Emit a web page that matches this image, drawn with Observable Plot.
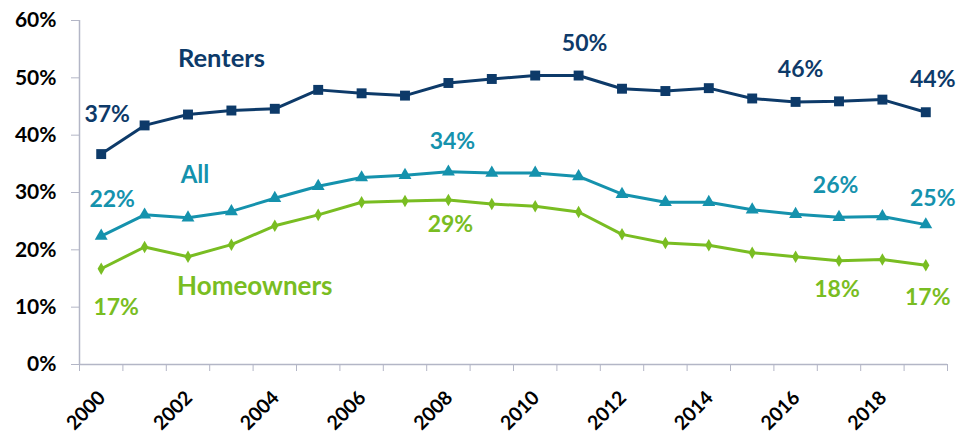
<!DOCTYPE html>
<html><head><meta charset="utf-8">
<script src="https://cdn.jsdelivr.net/npm/d3@7"></script>
<script src="https://cdn.jsdelivr.net/npm/@observablehq/plot@0.6"></script>
<style>body{margin:0;background:#fff;}</style>
</head><body><div id="chart"></div>
<script>
const years = [2000,2001,2002,2003,2004,2005,2006,2007,2008,2009,2010,2011,2012,2013,2014,2015,2016,2017,2018,2019];
const renters = [36.7,41.7,43.6,44.3,44.6,47.9,47.3,46.9,49.1,49.8,50.4,50.4,48.1,47.7,48.2,46.4,45.8,45.9,46.2,44.0];
const allHouseholds = [22.4,26.1,25.6,26.7,29.0,31.1,32.6,33.0,33.6,33.4,33.4,32.8,29.7,28.3,28.3,27.0,26.2,25.7,25.8,24.4];
const homeowners = [16.7,20.5,18.8,20.9,24.2,26.1,28.3,28.5,28.7,28.0,27.6,26.6,22.7,21.2,20.8,19.5,18.8,18.1,18.3,17.3];
const seriesNames = ["Renters","All","Homeowners"];
const yTicks = [0,10,20,30,40,50,60];
const xTickLabels = [2000,2002,2004,2006,2008,2010,2012,2014,2016,2018];
const labelText   = ["Renters","37%","50%","46%","44%","All","22%","34%","26%","25%","Homeowners","17%","29%","18%","17%"];
const labelSeries = ["Renters","Renters","Renters","Renters","Renters","All","All","All","All","All","Homeowners","Homeowners","Homeowners","Homeowners","Homeowners"];
const labelYear   = [2003,2000,2011,2016,2019,2002,2000,2008,2016,2019,2004,2000,2008,2017,2019];

// layout (pixel offsets and sizes of labels relative to their anchor point)
const labelDx = [-10,6,6,5,7,7,11,4,40,7,-20,15,2,-2,2];
const labelDy = [-52,-39,-32,-32,-33,-42,-36,-30,-29,-26,61,39,25,29,32];
const labelSize = [25.5,23,23,23,23,24,23,23,23,23,26,23,23,23,23];

const colors = {Renters:"#0d3a69", All:"#1592ad", Homeowners:"#79bd22"};
const symbols = {Renters:"square", All:"triangle", Homeowners:"diamond"};
const radii = {Renters:5.6, All:4.8, Homeowners:3.8};
const valuesBySeries = {Renters:renters, All:allHouseholds, Homeowners:homeowners};

const rows = seriesNames.flatMap(s => years.map((yr,i) => ({series:s, year:yr, value:valuesBySeries[s][i]})));
const boundaries = years.map(y => y - 0.5).concat([years[years.length-1] + 0.5]);
const font = "Lato, 'Open Sans', sans-serif";
const axisColor = "#b3b6c6";

const marks = [
  Plot.axisY({ticks: yTicks, tickFormat: d => d + "%", tickSize: 8, tickPadding: 15, stroke: axisColor, fill: "#000", fontSize: 21, fontWeight: "bold", label: null}),
  Plot.ruleX([boundaries[0]], {y1: 0, y2: 60, stroke: axisColor, strokeWidth: 1.5}),
  Plot.ruleY([0], {stroke: axisColor, strokeWidth: 1.5}),
  Plot.axisX({ticks: boundaries, tickFormat: () => "", tickSize: 7, stroke: axisColor, label: null}),
  Plot.text(xTickLabels, {x: d => d, y: 0, text: d => String(d), rotate: -45, textAnchor: "end", lineAnchor: "middle", dx: 1, dy: 30, fontSize: 19.5, fontWeight: "bold", fill: "#000"}),
  ...seriesNames.map(s => Plot.lineY(rows.filter(r => r.series === s), {x: "year", y: "value", stroke: colors[s], strokeWidth: 3})),
  ...seriesNames.map(s => Plot.dot(rows.filter(r => r.series === s), {x: "year", y: "value", symbol: symbols[s], r: radii[s], fill: colors[s], stroke: "none"})),
  ...labelText.map((t, i) => {
    const s = labelSeries[i];
    const idx = years.indexOf(labelYear[i]);
    return Plot.text([{year: labelYear[i], value: valuesBySeries[s][idx], t}], {x: "year", y: "value", text: "t", dx: labelDx[i], dy: labelDy[i], fill: colors[s], fontSize: labelSize[i], fontWeight: "bold"});
  })
];

const chart = Plot.plot({
  width: 959, height: 435,
  marginLeft: 79, marginRight: 12, marginTop: 20, marginBottom: 71,
  style: {fontFamily: font, background: "#fff", overflow: "visible"},
  x: {domain: [boundaries[0], boundaries[boundaries.length-1]]},
  y: {domain: [0, 60]},
  marks
});
document.getElementById("chart").appendChild(chart);
</script>
</body></html>
